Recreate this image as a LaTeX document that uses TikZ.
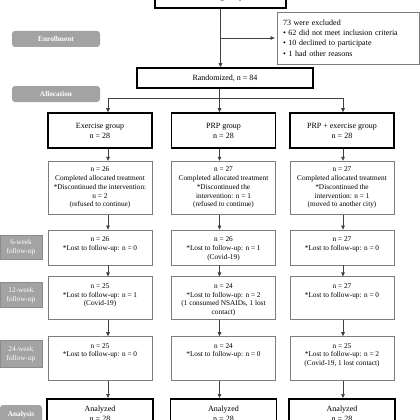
\documentclass[tikz,border=0pt]{standalone}
\usepackage{fontspec}
\setmainfont{Liberation Serif}
\usetikzlibrary{arrows.meta, positioning}
\definecolor{stagegray}{RGB}{163,163,163}
\definecolor{framegray}{RGB}{125,125,125}
\newcommand{\mainsize}{\fontsize{8}{10}\selectfont}
\newcommand{\excludesize}{\fontsize{8}{10.4}\selectfont}
\newcommand{\detailsize}{\fontsize{7.3}{8.7}\selectfont}
\newcommand{\labelsize}{\fontsize{7.3}{9}\selectfont}

\begin{document}
\begin{tikzpicture}[x=1pt, y=-1pt,
    mainbox/.style={draw, line width=1.6pt, minimum width=104pt, minimum height=35pt, align=center, font=\mainsize, inner sep=2pt},
    detailbox/.style={draw=framegray, line width=0.8pt, minimum width=104pt, align=center, font=\detailsize, inner sep=2pt},
    detailtext/.style={inner sep=0pt, align=center, font=\detailsize},
    stage/.style={fill=stagegray, rounded corners=3pt, text=white, font=\labelsize\bfseries, minimum width=88pt, minimum height=16pt, inner sep=0pt},
    week/.style={fill=stagegray, draw=stagegray!85!black, line width=0.4pt, text=white, font=\labelsize, align=center, minimum width=42pt, inner sep=0pt},
    link/.style={black!75, line width=0.7pt},
    arrow/.style={link, -{Triangle[length=4pt, width=3.6pt]}},
    node distance=12pt,
]
    \useasboundingbox (0,0) rectangle (420,420);

    % enrollment
    \node[mainbox, minimum width=131pt, minimum height=20pt] (screen) at (220.5,-2) {Assessed for eligibility, n = 157};
    \node[detailbox, align=left, text width=130pt, inner xsep=6pt, minimum height=52pt, font=\excludesize] (excl) at (348,38)
        {73 were excluded\\
         \textbullet~62 did not meet inclusion criteria\\
         \textbullet~10 declined to participate\\
         \textbullet~1 had other reasons};
    \node[mainbox, minimum width=176pt, minimum height=20pt] (rand) at (225,78) {Randomized, n = 84};

    \node[stage] (enrol) at (56,39) {Enrollment};
    \node[stage] (alloc) at (56,94) {Allocation};

    % allocation
    \coordinate (ca) at (108,98);
    \coordinate (cb) at (219.5,98);
    \coordinate (cc) at (343,98);

    \node[mainbox] (ex) at (100,130.5) {Exercise group\\n = 28};
    \node[mainbox] (prp) at (223.5,130.5) {PRP group\\n = 28};
    \node[mainbox] (both) at (342,130.5) {PRP + exercise group\\n = 28};

    \node[detailbox, minimum height=53pt, below=of ex] (exdone)
        {n = 26\\Completed allocated treatment\\*Discontinued the intervention:\\n = 2\\(refused to continue)};
    \node[detailbox, minimum height=53pt, below=of prp] (prpdone)
        {n = 27\\Completed allocated treatment\\*Discontinued the\\intervention: n = 1\\(refused to continue)};
    \node[detailbox, minimum height=53pt, below=of both] (bothdone)
        {n = 27\\Completed allocated treatment\\*Discontinued the\\intervention: n = 1\\(moved to another city)};

    % follow-up
    \node[detailbox, minimum height=35pt, below=15pt of exdone] (ex6) {};
    \node[detailbox, minimum height=35pt, below=15pt of prpdone] (prp6) {};
    \node[detailbox, minimum height=35pt, below=15pt of bothdone] (both6) {};
    \node[detailtext, below=7pt of ex6.north] (ex6txt) {n = 26\\*Lost to follow-up: n = 0};
    \node[detailtext, below=7pt of prp6.north] (prp6txt) {n = 26\\*Lost to follow-up: n = 1\\(Covid-19)};
    \node[detailtext, below=7pt of both6.north] (both6txt) {n = 27\\*Lost to follow-up: n = 0};

    \node[detailbox, minimum height=43pt, below=11pt of ex6] (ex12) {};
    \node[detailbox, minimum height=43pt, below=11pt of prp6] (prp12) {};
    \node[detailbox, minimum height=43pt, below=11pt of both6] (both12) {};
    \node[detailtext, below=7pt of ex12.north] (ex12txt) {n = 25\\*Lost to follow-up: n = 1\\(Covid-19)};
    \node[detailtext, below=7pt of prp12.north] (prp12txt) {n = 24\\*Lost to follow-up: n = 2\\(1 consumed NSAIDs, 1 lost\\contact)};
    \node[detailtext, below=7pt of both12.north] (both12txt) {n = 27\\*Lost to follow-up: n = 0};

    \node[detailbox, minimum height=44pt, below=16pt of ex12] (ex24) {};
    \node[detailbox, minimum height=44pt, below=16pt of prp12] (prp24) {};
    \node[detailbox, minimum height=44pt, below=16pt of both12] (both24) {};
    \node[detailtext, below=7pt of ex24.north] (ex24txt) {n = 25\\*Lost to follow-up: n = 0};
    \node[detailtext, below=7pt of prp24.north] (prp24txt) {n = 24\\*Lost to follow-up: n = 0};
    \node[detailtext, below=7pt of both24.north] (both24txt) {n = 25\\*Lost to follow-up: n = 2\\(Covid-19, 1 lost contact)};

    % analysis
    \node[mainbox, minimum width=106pt, minimum height=30pt, below=17pt of ex24] (exan) {Analyzed\\n = 28};
    \node[mainbox, minimum width=106pt, minimum height=30pt, below=17pt of prp24] (prpan) {Analyzed\\n = 28};
    \node[mainbox, minimum width=106pt, minimum height=30pt, below=17pt of both24] (bothan) {Analyzed\\n = 28};

    \node[week, minimum height=24pt] (wk6) at (21,247) {6-week\\follow-up};
    \node[week, minimum height=25pt] (wk12) at (21,295) {12-week\\follow-up};
    \node[week, minimum height=27pt] (wk24) at (21,354) {24-week\\follow-up};
    \node[stage, minimum width=42pt, minimum height=20pt] (anal) at (21,415) {Analysis};

    % connectors
    \draw[arrow] (screen.south) -- (screen.south |- rand.north);
    \draw[arrow, shorten >=2pt] (screen.south |- excl.west) -- (excl.west);
    \draw[arrow] (rand.south -| cb) |- (ca) -- (ex.north -| ca);
    \draw[arrow] (ca) -| (both.north -| cc);
    \draw[arrow] (cb) -- (prp.north -| cb);

    \draw[arrow] (ex.south -| ca) -- (exdone.north -| ca);
    \draw[arrow] (prp.south -| cb) -- (prpdone.north -| cb);
    \draw[arrow] (both.south -| cc) -- (bothdone.north -| cc);
    \draw[arrow] (exdone.south -| ca) -- (ex6.north -| ca);
    \draw[arrow] (prpdone.south -| cb) -- (prp6.north -| cb);
    \draw[arrow] (bothdone.south -| cc) -- (both6.north -| cc);
    \draw[arrow] (ex6.south -| ca) -- (ex12.north -| ca);
    \draw[arrow] (prp6.south -| cb) -- (prp12.north -| cb);
    \draw[arrow] (both6.south -| cc) -- (both12.north -| cc);
    \draw[arrow] (ex12.south -| ca) -- (ex24.north -| ca);
    \draw[arrow] (prp12.south -| cb) -- (prp24.north -| cb);
    \draw[arrow] (both12.south -| cc) -- (both24.north -| cc);
    \draw[arrow] (ex24.south -| ca) -- (exan.north -| ca);
    \draw[arrow] (prp24.south -| cb) -- (prpan.north -| cb);
    \draw[arrow] (both24.south -| cc) -- (bothan.north -| cc);
\end{tikzpicture}
\end{document}
